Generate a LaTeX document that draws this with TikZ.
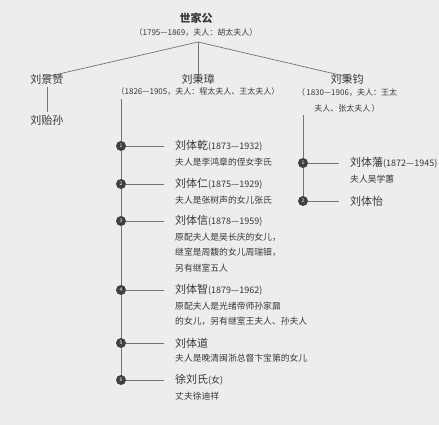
\documentclass[tikz,border=0pt]{standalone}
\usepackage{fontspec}
\setmainfont{Noto Sans CJK SC}
\colorlet{mypaper}{black!7}
\colorlet{myline}{black!55}
\colorlet{myink}{black!78}
\colorlet{mydot}{black!75}

\begin{document}
\begin{tikzpicture}[x=1pt,y=-1pt]
\tikzset{
  person/.style ={inner sep=0, text=myink, font=\fontsize{11}{12}\selectfont},
  years/.style ={inner sep=0, text=myink, font=\fontsize{8}{9}\selectfont, align=center},
  note/.style ={inner sep=0, text=myink, font=\fontsize{8.8}{15.5}\selectfont, align=left, anchor=north west},
  dot/.style ={shape=circle, fill=mydot, inner sep=0, minimum size=10pt, text=white, font=\fontsize{5}{5}\selectfont},
  link/.style ={draw=myline, line width=0.7pt},
  branch/.style ={link, shorten >=11pt}
}
\newcommand{\yrs}[1]{\fontsize{9}{10}\selectfont#1}
\fill[mypaper] (0,0) rectangle (439,425);
\useasboundingbox (0,0) rectangle (439,425);
% first generation
\node[person, font=\fontsize{11}{12}\selectfont\bfseries] (gong) at (196,18) {世家公};
\node[years] (gongyrs) at (196,33) {（1795—1869，夫人：胡太夫人）};
\coordinate (top) at (198,42);
% second generation
\node[person] (jing) at (47,79) {刘景赞};
\node[person] (zhang) at (198,79) {刘秉璋};
\node[years] (zhangyrs) at (198,92) {（1826—1905，夫人：程太夫人、王太夫人）};
\node[person] (jun) at (347,79) {刘秉钧};
\node[years, font=\fontsize{8}{16}\selectfont] (junyrs) at (347,100) {（\,1830—1906，夫人：王太\\夫人、张太夫人\,）};
\node[person] (yi) at (47,120) {刘贻孙};
\draw[link] (top) -- ([yshift=-3pt]jing.north);
\draw[link] (top) -- ([yshift=-3pt]zhang.north);
\draw[link] (top) -- ([yshift=-3pt]jun.north);
\draw[link, shorten <=3pt, shorten >=3pt] (jing) -- (yi);
% sons of liu bingzhang
\foreach \n/\y in {1/146,2/184,3/221,4/290,5/343,6/380}
  \node[dot] (c\n) at (121,\y) {\n};
\node[person, anchor=west] (ti1) at (175,146) {刘体乾\yrs{(1873—1932)}};
\node[note] (ti1n) at ([yshift=-6pt]ti1.south west) {夫人是李鸿章的侄女李氏};
\node[person, anchor=west] (ti2) at (175,184) {刘体仁\yrs{(1875—1929)}};
\node[note] (ti2n) at ([yshift=-6pt]ti2.south west) {夫人是张树声的女儿张氏};
\node[person, anchor=west] (ti3) at (175,221) {刘体信\yrs{(1878—1959)}};
\node[note] (ti3n) at ([yshift=-6pt]ti3.south west) {原配夫人是吴长庆的女儿，\\继室是周馥的女儿周瑞钿，\\另有继室五人};
\node[person, anchor=west] (ti4) at (175,290) {刘体智\yrs{(1879—1962)}};
\node[note] (ti4n) at ([yshift=-6pt]ti4.south west) {原配夫人是光绪帝师孙家鼐\\的女儿，另有继室王夫人、孙夫人};
\node[person, anchor=west] (ti5) at (175,343) {刘体道};
\node[note] (ti5n) at ([yshift=-6pt]ti5.south west) {夫人是晚清闽浙总督卞宝第的女儿};
\node[person, anchor=west] (ti6) at (175,380) {徐刘氏\yrs{(女)}};
\node[note] (ti6n) at ([yshift=-6pt]ti6.south west) {丈夫徐迪祥};
\draw[link] ([yshift=-3pt]c1 |- zhangyrs.south) -- (c1);
\foreach \a/\b in {1/2,2/3,3/4,4/5,5/6}
  \draw[link] (c\a) -- (c\b);
\foreach \n in {1,...,6}
  \draw[branch] (c\n) -- (ti\n.west);
% sons of liu bingjun
\node[dot] (d1) at (303,163) {1};
\node[dot] (d2) at (303,201) {2};
\node[person, anchor=west] (fan) at (350,163) {刘体藩\yrs{(1872—1945)}};
\node[note] (fann) at ([yshift=-6pt]fan.south west) {夫人吴学蕙};
\node[person, anchor=west] (yi2) at (350,201) {刘体怡};
\draw[link] ([yshift=-3pt]d1 |- junyrs.south) -- (d1);
\draw[link] (d1) -- (d2);
\draw[branch] (d1) -- (fan.west);
\draw[branch] (d2) -- (yi2.west);
\end{tikzpicture}
\end{document}
